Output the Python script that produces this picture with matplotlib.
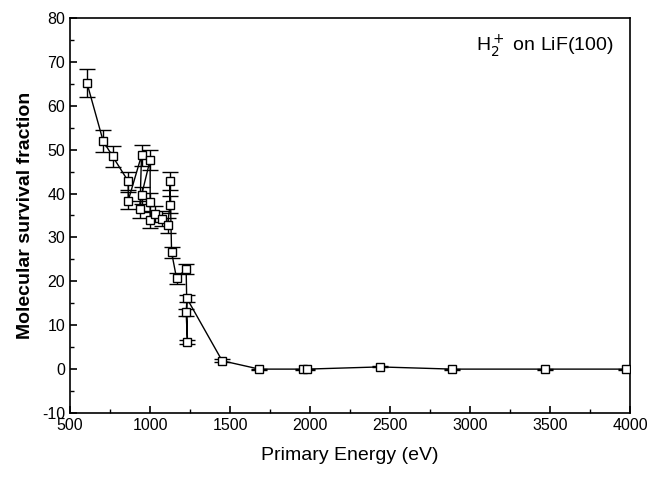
import matplotlib
matplotlib.use("Agg")
import matplotlib.pyplot as plt
from matplotlib.ticker import MultipleLocator

plt.rcParams['font.family'] = ['Liberation Sans', 'DejaVu Sans']
plt.rcParams['axes.unicode_minus'] = False

energy = [606, 707, 766, 864, 864, 947, 937, 947, 1001, 1001, 1001, 1032, 1076,
          1110, 1125, 1125, 1135, 1166, 1226, 1234, 1226, 1231, 1451, 1683,
          1954, 1980, 2435, 2890, 3468, 3975]
survival = [65.2, 52.0, 48.5, 42.8, 38.4, 48.7, 36.4, 39.6, 47.7, 38.1, 33.9, 35.4, 34.3,
            32.8, 37.5, 42.8, 26.6, 20.7, 22.8, 6.2, 12.9, 16.1, 1.9, 0.0,
            0.0, 0.0, 0.5, 0.0, 0.0, 0.0]
error = [3.2, 2.5, 2.4, 2.1, 2.0, 2.4, 2.0, 2.0, 2.3, 2.0, 1.8, 1.8, 1.7,
         1.7, 2.0, 2.0, 1.3, 1.2, 1.1, 0.5, 0.9, 0.9, 0.3, 0.1,
         0.1, 0.1, 0.1, 0.1, 0.1, 0.1]

fig = plt.figure(figsize=(6.52, 4.84), dpi=100)
ax = fig.add_axes([70/652, 1-413/484, 560/652, 395/484])

ax.errorbar(energy, survival, yerr=error, fmt='s-', color='black', mfc='white',
            mec='black', ms=6, lw=1.0, elinewidth=1.0, capsize=6, capthick=1.0,
            zorder=3)

ax.set_xlim(500, 4000)
ax.set_ylim(-10, 80)
ax.xaxis.set_major_locator(MultipleLocator(500))
ax.xaxis.set_minor_locator(MultipleLocator(250))
ax.yaxis.set_major_locator(MultipleLocator(10))
ax.yaxis.set_minor_locator(MultipleLocator(5))
ax.tick_params(which='both', direction='in', top=False, right=False, labelsize=11.5)
ax.tick_params(which='major', length=5, width=1.2)
ax.tick_params(which='minor', length=3, width=1.0)
for s in ax.spines.values():
    s.set_linewidth(1.2)

ax.set_xlabel('Primary Energy (eV)', fontsize=14, labelpad=10)
ax.set_ylabel('Molecular survival fraction', fontsize=14, fontweight='bold', labelpad=6)
ax.text(0.97, 0.93, r'H$_2^+$ on LiF(100)', transform=ax.transAxes,
        ha='right', va='center', fontsize=14)

fig.savefig('out.png', dpi=100)
